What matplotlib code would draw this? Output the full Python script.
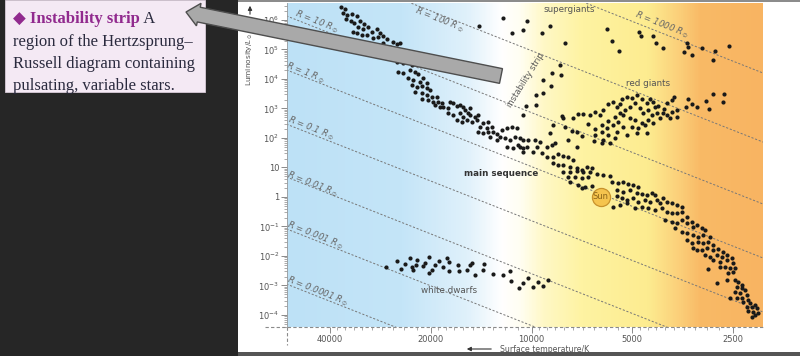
import numpy as np
import matplotlib
matplotlib.use("Agg")
import matplotlib.pyplot as plt
from matplotlib.colors import LinearSegmentedColormap
from matplotlib.patches import Rectangle, FancyArrow, FancyArrowPatch
from matplotlib.transforms import Affine2D
from matplotlib.text import Annotation
from matplotlib.ticker import NullFormatter, LogLocator

W, H = 800, 356

# ---- star data: log10(T / K) and log10(L / Lsun) ----
ms_logT = [4.569, 4.557, 4.563, 4.551, 4.536, 4.521, 4.554, 4.539, 4.530, 4.512,
           4.500, 4.518, 4.503, 4.488, 4.476, 4.462, 4.453, 4.444, 4.533, 4.521,
           4.506, 4.491, 4.474, 4.459, 4.432, 4.414, 4.402, 4.393, 4.444, 4.423,
           4.462, 4.444, 4.423, 4.402, 4.384, 4.357, 4.399, 4.384, 4.363, 4.348,
           4.339, 4.369, 4.354, 4.333, 4.324, 4.312, 4.357, 4.342, 4.327, 4.312,
           4.303, 4.348, 4.327, 4.312, 4.297, 4.282, 4.327, 4.309, 4.294, 4.279,
           4.267, 4.288, 4.273, 4.264, 4.249, 4.243, 4.234, 4.222, 4.213, 4.205,
           4.199, 4.184, 4.190, 4.249, 4.234, 4.213, 4.205, 4.184, 4.169, 4.160,
           4.222, 4.208, 4.193, 4.178, 4.163, 4.145, 4.130, 4.154, 4.133, 4.118,
           4.160, 4.145, 4.130, 4.115, 4.103, 4.088, 4.073, 4.058, 4.043, 4.094,
           4.079, 4.064, 4.049, 4.034, 4.025, 4.073, 4.055, 4.040, 4.025, 4.013,
           4.103, 4.124, 4.010, 3.989, 3.975, 3.954, 3.939, 3.983, 4.034, 4.025,
           3.995, 3.969, 3.954, 3.936, 3.921, 3.906, 3.891, 3.876, 3.936, 3.906,
           3.921, 3.885, 3.864, 3.849, 3.834, 3.819, 3.906, 3.885, 3.864, 3.846,
           3.825, 3.804, 3.786, 3.765, 3.891, 3.870, 3.849, 3.831, 3.885, 3.861,
           3.840, 3.819, 3.849, 3.759, 3.741, 3.726, 3.711, 3.697, 3.682, 3.744,
           3.726, 3.706, 3.685, 3.670, 3.655, 3.640, 3.631, 3.744, 3.729, 3.714,
           3.697, 3.682, 3.661, 3.646, 3.625, 3.616, 3.607, 3.595, 3.580, 3.565,
           3.550, 3.756, 3.735, 3.714, 3.691, 3.670, 3.652, 3.631, 3.610, 3.595,
           3.580, 3.565, 3.550, 3.535, 3.601, 3.580, 3.565, 3.550, 3.535, 3.520,
           3.517, 3.505, 3.490, 3.481, 3.571, 3.550, 3.535, 3.517, 3.502, 3.487,
           3.466, 3.535, 3.520, 3.502, 3.487, 3.472, 3.458, 3.517, 3.505, 3.490,
           3.475, 3.458, 3.443, 3.428, 3.481, 3.466, 3.446, 3.431, 3.416, 3.401,
           3.458, 3.437, 3.416, 3.398, 3.437, 3.422, 3.472, 3.407, 3.392, 3.413,
           3.398, 3.446, 3.416, 3.392, 3.383, 3.371, 3.386, 3.371, 3.362, 3.392,
           3.377, 3.356, 3.407, 3.386, 3.371, 3.353, 3.368, 3.347, 3.332, 3.356,
           3.341, 3.326, 3.353, 3.338, 3.323, 3.341, 3.332]
ms_logL = [6.44, 6.37, 6.24, 6.17, 6.20, 6.14, 6.03, 5.97, 5.90, 5.97,
           5.86, 5.76, 5.70, 5.76, 5.59, 5.70, 5.56, 5.46, 5.59, 5.56,
           5.49, 5.49, 5.39, 5.42, 5.36, 5.25, 5.19, 5.22, 5.22, 5.09,
           4.88, 4.78, 4.71, 4.58, 4.54, 4.48, 4.24, 4.20, 4.31, 4.24,
           4.17, 4.03, 3.97, 3.90, 4.03, 3.86, 3.80, 3.73, 3.76, 3.69,
           3.63, 3.56, 3.53, 3.46, 3.39, 3.39, 3.32, 3.29, 3.22, 3.22,
           3.19, 3.12, 3.05, 3.05, 3.02, 3.22, 3.19, 3.08, 3.12, 3.05,
           2.95, 3.02, 2.85, 2.85, 2.78, 2.85, 2.71, 2.78, 2.71, 2.78,
           2.61, 2.54, 2.61, 2.54, 2.61, 2.51, 2.54, 2.37, 2.34, 2.37,
           2.20, 2.17, 2.20, 2.20, 2.14, 2.27, 2.34, 2.37, 2.34, 2.03,
           2.00, 1.93, 2.03, 2.00, 1.93, 1.69, 1.66, 1.76, 1.66, 1.69,
           1.93, 2.03, 1.93, 1.93, 1.86, 1.69, 1.76, 1.69, 1.69, 1.53,
           1.53, 1.49, 1.36, 1.36, 1.46, 1.39, 1.36, 1.25, 1.15, 1.08,
           1.08, 1.02, 0.98, 0.92, 1.02, 0.98, 0.85, 0.85, 0.88, 0.85,
           0.85, 0.78, 0.75, 0.71, 0.68, 0.68, 0.64, 0.68, 0.51, 0.41,
           0.34, 0.37, 0.30, 0.51, 0.47, 0.51, 0.44, 0.41, 0.34, 0.24,
           0.17, 0.24, 0.14, 0.10, 0.07, 0.14, 0.07, 0.03, -0.03, -0.10,
           -0.03, -0.17, -0.10, -0.17, -0.10, -0.20, -0.03, -0.17, -0.20, -0.27,
           -0.34, -0.34, -0.27, -0.20, -0.37, -0.34, -0.37, -0.44, -0.37, -0.51,
           -0.54, -0.54, -0.51, -0.68, -0.78, -0.85, -0.88, -0.78, -0.88, -0.85,
           -1.02, -0.95, -1.05, -1.12, -1.05, -1.19, -1.22, -1.29, -1.36, -1.29,
           -1.36, -1.46, -1.56, -1.53, -1.56, -1.53, -1.63, -1.73, -1.80, -1.80,
           -1.73, -1.80, -1.76, -1.87, -1.97, -2.03, -1.97, -2.03, -1.97, -2.07,
           -2.14, -2.20, -2.14, -2.24, -2.37, -2.37, -2.44, -2.41, -2.41, -2.58,
           -2.54, -2.92, -2.81, -2.81, -2.88, -3.00, -3.05, -3.09, -3.15, -3.22,
           -3.25, -3.32, -3.42, -3.42, -3.42, -3.49, -3.56, -3.59, -3.66, -3.73,
           -3.73, -3.76, -3.86, -3.90, -3.93, -4.07, -4.00]

rg_logT = [3.458, 3.425, 3.428, 3.479, 3.470, 3.532, 3.538, 3.520, 3.505, 3.574,
           3.580, 3.595, 3.565, 3.604, 3.622, 3.631, 3.637, 3.646, 3.655, 3.670,
           3.685, 3.700, 3.714, 3.729, 3.735, 3.744, 3.756, 3.771, 3.786, 3.795,
           3.810, 3.825, 3.846, 3.861, 3.876, 3.909, 3.936, 3.900, 3.879, 3.849,
           3.831, 3.810, 3.789, 3.771, 3.750, 3.735, 3.720, 3.706, 3.691, 3.676,
           3.667, 3.652, 3.640, 3.625, 3.616, 3.607, 3.595, 3.586, 3.565, 3.580,
           3.652, 3.670, 3.691, 3.706, 3.726, 3.741, 3.756, 3.774, 3.789, 3.810,
           3.771, 3.744, 3.726, 3.700, 3.682, 3.661, 3.637, 3.655, 3.685, 3.714,
           3.750, 3.786, 3.765, 3.813, 3.789, 3.945, 3.930, 3.891, 3.864, 3.906,
           3.864]
rg_logL = [3.49, 3.49, 3.22, 3.25, 2.98, 3.32, 3.05, 3.15, 3.05, 3.39,
           3.29, 3.19, 2.95, 2.98, 3.08, 3.05, 3.22, 3.32, 3.19, 3.32,
           3.46, 3.36, 3.39, 3.32, 3.15, 3.05, 3.22, 3.15, 2.95, 2.78,
           2.88, 2.78, 2.81, 2.81, 2.68, 2.75, 2.44, 2.37, 2.24, 2.07,
           2.47, 2.31, 2.44, 2.58, 2.71, 2.85, 2.95, 3.05, 3.19, 3.02,
           2.85, 2.95, 2.78, 2.85, 2.68, 2.85, 2.78, 2.68, 2.71, 2.88,
           2.61, 2.51, 2.61, 2.68, 2.78, 2.54, 2.44, 2.34, 2.20, 2.10,
           2.10, 2.20, 2.37, 2.37, 2.34, 2.44, 2.51, 2.17, 2.17, 2.10,
           2.00, 1.93, 1.83, 1.90, 1.83, 2.17, 1.83, 1.93, 1.69, 2.68,
           2.20]

sg_logT = [4.157, 4.085, 4.058, 4.025, 4.013, 3.969, 3.945, 3.900, 3.774, 3.759,
           3.738, 3.679, 3.673, 3.637, 3.628, 3.607, 3.535, 3.532, 3.544, 3.520,
           3.490, 3.452, 3.458, 3.410]
sg_logL = [5.80, 6.07, 5.56, 5.66, 5.97, 5.56, 5.80, 5.22, 5.70, 5.29,
           4.95, 5.59, 5.46, 5.46, 5.22, 5.05, 5.22, 5.09, 4.92, 4.81,
           5.05, 4.95, 4.64, 5.12]

is_logT = [3.915, 3.939, 3.912, 3.966, 3.942, 3.966, 3.986, 3.986, 4.016, 4.025]
is_logL = [4.48, 4.20, 4.14, 3.97, 3.76, 3.53, 3.46, 3.12, 3.09, 2.78]

wd_logT = [4.435, 4.402, 4.390, 4.378, 4.363, 4.357, 4.354, 4.345, 4.342, 4.324,
           4.318, 4.306, 4.306, 4.297, 4.288, 4.276, 4.264, 4.252, 4.246, 4.246,
           4.220, 4.217, 4.193, 4.184, 4.178, 4.169, 4.142, 4.145, 4.115, 4.085,
           4.064, 4.061, 4.037, 4.025, 4.010, 3.995, 3.981, 3.966, 3.951]
wd_logL = [-2.37, -2.17, -2.44, -2.27, -2.07, -2.37, -2.48, -2.31, -2.14, -2.34,
           -2.24, -2.03, -2.58, -2.48, -2.31, -2.17, -2.37, -2.07, -2.20, -2.51,
           -2.31, -2.51, -2.48, -2.31, -2.24, -2.64, -2.27, -2.48, -2.61, -2.64,
           -2.51, -2.85, -3.09, -2.92, -2.75, -3.05, -2.88, -3.02, -2.81]

sun_T, sun_L = 6200, 1.0

# lines of constant radius: log L where each line meets T = 54000 K and T = 2000 K
r_labels = ["1000", "100", "10", "1", "0.1", "0.01", "0.001", "0.0001"]
r_line_T = [54000, 2000]
r_logL_hot = [10.58, 8.24, 6.14, 4.31, 2.47, 0.68, -1.08, -2.95]
r_logL_cool = [4.17, 1.83, -0.27, -2.10, -3.93, -5.73, -7.49, -9.36]
r_label_logT = [3.610, 4.276, 4.641, 4.677, 4.659, 4.653, 4.647, 4.638]
r_label_logL = [5.83, 6.00, 5.93, 4.22, 2.34, 0.44, -1.29, -3.19]

x_ticks = [40000, 20000, 10000, 5000, 2500]
x_tick_labels = ["40000", "20000", "10000", "5000", "2500"]
y_ticks = [1e6, 1e5, 1e4, 1e3, 1e2, 1e1, 1e0, 1e-1, 1e-2, 1e-3, 1e-4]
y_tick_labels = ["$10^6$", "$10^5$", "$10^4$", "$10^3$", "$10^2$", "10", "1",
                 "$10^{-1}$", "$10^{-2}$", "$10^{-3}$", "$10^{-4}$"]

plt.rcParams["font.family"] = ["DejaVu Sans"]
plt.rcParams["mathtext.fontset"] = "dejavusans"

fig = plt.figure(figsize=(8, 3.56), dpi=100, facecolor="#262626")
# pixel coordinates, y pointing down, for the page furniture
px = Affine2D().scale(1 / W, -1 / H).translate(0, 1) + fig.transFigure

fig.add_artist(Rectangle((238, 2), 562, 350, transform=px, facecolor="white",
                         edgecolor="none", zorder=-2))
fig.add_artist(Rectangle((238, 0), 562, 2, transform=px, facecolor="#8c8c8c",
                         edgecolor="none", zorder=-2))
fig.add_artist(Rectangle((238, 352), 562, 4, transform=px, facecolor="#555555",
                         edgecolor="none", zorder=-2))

rect = [287 / W, (H - 327) / H, 476 / W, 324 / H]

# background colour band (hot blue -> white -> yellow -> orange)
bg = fig.add_axes(rect, zorder=0)
cmap = LinearSegmentedColormap.from_list("hr", [
    (0.0, "#bde1f6"), (0.24, "#c4e5f8"), (0.38, "#e0f1fb"), (0.45, "#ffffff"),
    (0.49, "#fffef2"), (0.54, "#fff8c6"), (0.62, "#fef3a2"), (0.76, "#fdec90"),
    (0.83, "#fbcd78"), (0.87, "#f9ba66"), (1.0, "#f8b462")])
bg.imshow(np.linspace(0, 1, 600)[None, :], cmap=cmap, aspect="auto",
          extent=[0, 1, 0, 1])
bg.axis("off")

ax = fig.add_axes(rect, zorder=1)
ax.patch.set_alpha(0)
ax.set_xscale("log")
ax.set_yscale("log")
ax.set_xlim(53770, 2034)
ax.set_ylim(10 ** -4.407, 10 ** 6.576)

grey = "#777777"
for hot, cool in zip(r_logL_hot, r_logL_cool):
    ax.plot(r_line_T, [10 ** hot, 10 ** cool], ls=(0, (2.2, 1.8)), lw=0.7,
            color=grey, zorder=2)
for lab, lt, ll in zip(r_labels, r_label_logT, r_label_logL):
    ax.text(10 ** lt, 10 ** ll, rf"$R$ = {lab} $R_\odot$", rotation=-21.6,
            rotation_mode="anchor", ha="center", va="center", fontsize=6.2,
            color="#666666", style="italic", zorder=2)

for lt, ll in [(ms_logT, ms_logL), (rg_logT, rg_logL), (sg_logT, sg_logL),
               (is_logT, is_logL), (wd_logT, wd_logL)]:
    ax.scatter(10 ** np.array(lt), 10 ** np.array(ll), s=9, c="#1a1a1a",
               linewidths=0, zorder=3)

ax.scatter([sun_T], [sun_L], s=170, facecolor="#f5c44e", edgecolor="#c8922c",
           linewidths=0.9, zorder=4)
ax.text(sun_T, sun_L, "Sun", ha="center", va="center", fontsize=6,
        color="#8a6418", zorder=5)

ax.text(7730, 2.2e6, "supergiants", ha="center", va="center", fontsize=6.3,
        color="#555555")
ax.text(4490, 7300, "red giants", ha="center", va="center", fontsize=6.3,
        color="#555555")
ax.text(12330, 6.5, "main sequence", ha="center", va="center", fontsize=6.3,
        color="#333333", weight="bold")
ax.text(17620, 7e-4, "white dwarfs", ha="center", va="center", fontsize=6.3,
        color="#555555")
ax.text(10380, 9300, "instability strip", ha="center", va="center",
        fontsize=6.0, color="#555555", rotation=58, rotation_mode="anchor")

# ticks
ax.set_xticks(x_ticks, x_tick_labels)
minor_x = np.concatenate([np.arange(22000, 40000, 2000), np.arange(11000, 20000, 1000),
                          np.arange(5500, 10000, 500), np.arange(2750, 5000, 250)])
ax.set_xticks(minor_x, minor=True)
ax.xaxis.set_minor_formatter(NullFormatter())
ax.set_yticks(y_ticks, y_tick_labels)
ax.yaxis.set_minor_locator(LogLocator(base=10, subs=np.arange(2, 10), numticks=30))
ax.yaxis.set_minor_formatter(NullFormatter())
ax.tick_params(axis="both", which="major", direction="out", length=4, width=0.6,
               color="#777777", labelcolor="#555555", labelsize=6, pad=1.5)
ax.tick_params(axis="both", which="minor", direction="out", length=2.5, width=0.5,
               color="#888888")

for s in ["top", "right", "bottom"]:
    ax.spines[s].set_visible(False)
ax.spines["left"].set_color("#999999")
ax.spines["left"].set_linewidth(0.6)
ax.plot([-0.046, 1], [0, 0], transform=ax.transAxes, clip_on=False,
        ls=(0, (3, 2)), lw=0.8, color="#8a8a8a", zorder=2)
ax.plot([0, 0], [0, -0.056], transform=ax.transAxes, clip_on=False,
        ls=(0, (3, 2)), lw=0.8, color="#8a8a8a", zorder=2)

# axis titles with arrows
fig.text(250, 59, r"Luminosity/$L_\odot$", transform=px, rotation=90,
         ha="center", va="center", fontsize=5.3, color="#555555")
fig.add_artist(FancyArrowPatch((250, 17), (250, 3), transform=px,
                               arrowstyle="-|>", mutation_scale=6, lw=0.8,
                               color="#333333"))
fig.text(500, 349, "Surface temperature/K", transform=px, ha="left",
         va="center", fontsize=5.6, color="#555555")
fig.add_artist(FancyArrowPatch((494, 349), (464, 349), transform=px,
                               arrowstyle="-|>", mutation_scale=6, lw=0.8,
                               color="#333333"))

# glossary box
fig.add_artist(Rectangle((5, 0), 200, 92, transform=px, facecolor="#f4e9f4",
                         edgecolor="#d8cad8", lw=0.6, zorder=5))
serif = ["Liberation Serif", "DejaVu Sans"]
t1 = fig.text(13, 23, "\u25c6 Instability strip", transform=px, fontsize=12,
              family=serif, weight="bold", color="#912a8e", va="baseline",
              zorder=6)
fig.add_artist(Annotation(" A", xy=(1, 0), xycoords=t1, va="bottom", ha="left",
                          fontsize=12, family=serif, color="#2a2a3e",
                          zorder=6, annotation_clip=False))
for i, line in enumerate(["region of the Hertzsprung\u2013",
                          "Russell diagram containing",
                          "pulsating, variable stars."]):
    fig.text(13, 46 + 22 * i, line, transform=px, fontsize=12, family=serif,
             color="#2a2a3e", va="baseline", zorder=6)

# grey pointer arrow
fig.add_artist(FancyArrow(501, 76, -315, -64, width=15, head_width=23,
                          head_length=13, length_includes_head=True,
                          transform=px, facecolor="#a9a9a9",
                          edgecolor="#4e4e4e", lw=1.0, zorder=10))

fig.savefig("out.png", dpi=100, facecolor=fig.get_facecolor())
